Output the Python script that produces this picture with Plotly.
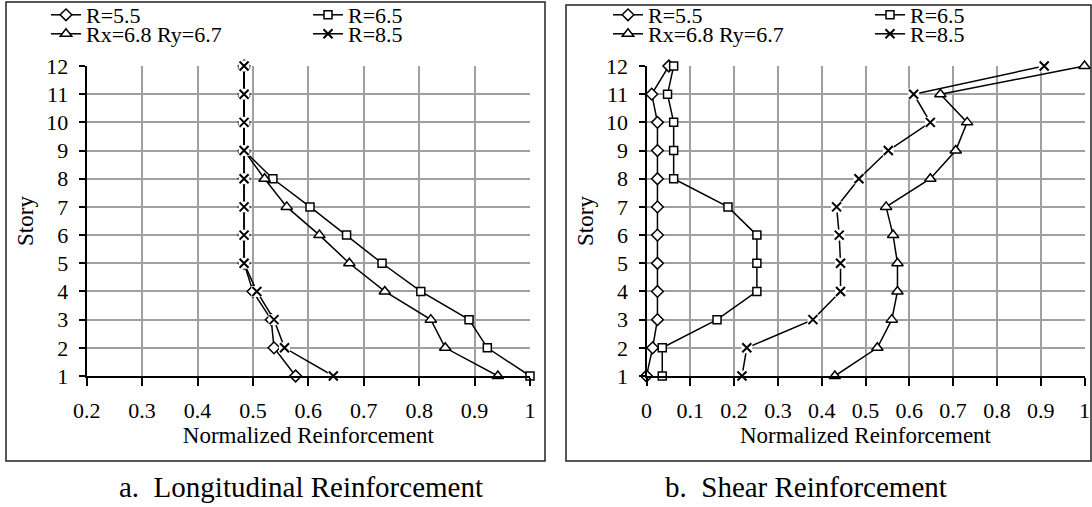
import plotly.graph_objects as go

W, H = 1092, 507

stories = [1, 2, 3, 4, 5, 6, 7, 8, 9, 10, 11, 12]
series_names = ["R=5.5", "R=6.5", "Rx=6.8 Ry=6.7", "R=8.5"]

# a. Longitudinal reinforcement (normalized)
long_r55 = [0.577, 0.538, 0.533, 0.500, 0.484, 0.484, 0.484, 0.484, 0.484, 0.484, 0.484, 0.484]
long_r65 = [1.000, 0.923, 0.890, 0.803, 0.733, 0.669, 0.603, 0.536, 0.484, 0.484, 0.484, 0.484]
long_r68 = [0.942, 0.847, 0.821, 0.738, 0.674, 0.620, 0.561, 0.521, 0.484, 0.484, 0.484, 0.484]
long_r85 = [0.645, 0.557, 0.538, 0.507, 0.484, 0.484, 0.484, 0.484, 0.484, 0.484, 0.484, 0.484]

# b. Shear reinforcement (normalized)
shear_r55 = [0.000, 0.014, 0.025, 0.025, 0.025, 0.025, 0.025, 0.025, 0.025, 0.025, 0.012, 0.051]
shear_r65 = [0.036, 0.036, 0.161, 0.252, 0.252, 0.252, 0.186, 0.062, 0.062, 0.062, 0.048, 0.062]
shear_r68 = [0.430, 0.527, 0.560, 0.573, 0.573, 0.563, 0.547, 0.648, 0.706, 0.732, 0.671, 1.000]
shear_r85 = [0.218, 0.229, 0.380, 0.443, 0.443, 0.440, 0.434, 0.485, 0.552, 0.648, 0.610, 0.908]

long_ticks = [0.2, 0.3, 0.4, 0.5, 0.6, 0.7, 0.8, 0.9, 1.0]
shear_ticks = [0, 0.1, 0.2, 0.3, 0.4, 0.5, 0.6, 0.7, 0.8, 0.9, 1.0]

FONT = "Liberation Serif, Times New Roman, serif"

markers = [
    dict(symbol="diamond", size=9, color="white", line=dict(color="black", width=1.5)),
    dict(symbol="square", size=8, color="white", line=dict(color="black", width=1.5)),
    dict(symbol="triangle-up", size=10, color="white", line=dict(color="black", width=1.5)),
    dict(symbol="x-thin", size=9, color="black", line=dict(color="black", width=2)),
]

fig = go.Figure()

def px_x(p):
    return p / W

def px_y(p):
    return 1 - p / H

# legend positions (pixel coords of legend left edge, row centre)
leg_pos_left = [(46, 15), (308, 15), (46, 34), (308, 34)]
leg_pos_right = [(608, 15), (870, 15), (608, 34), (870, 34)]

data_sets = [
    ("x", "y", [long_r55, long_r65, long_r68, long_r85], leg_pos_left, 0),
    ("x2", "y2", [shear_r55, shear_r65, shear_r68, shear_r85], leg_pos_right, 4),
]

legend_layouts = {}
for xa, ya, vals, legpos, off in data_sets:
    for i, (name, v) in enumerate(zip(series_names, vals)):
        lname = "legend" if off + i == 0 else f"legend{off + i + 1}"
        fig.add_trace(go.Scatter(
            x=v, y=stories, name=name, mode="lines+markers",
            line=dict(color="black", width=1.5),
            marker=markers[i], xaxis=xa, yaxis=ya,
            cliponaxis=False, legend=lname, showlegend=True,
        ))
        if i == 3:
            # white halo behind the x markers (breaks the lines like the original)
            fig.add_trace(go.Scatter(
                x=v, y=stories, mode="markers", showlegend=False, hoverinfo="skip",
                marker=dict(symbol="square", size=11, color="white", line=dict(width=0)),
                xaxis=xa, yaxis=ya, cliponaxis=False,
            ))
            fig.add_trace(go.Scatter(
                x=v, y=stories, mode="markers", showlegend=False, name=name,
                marker=markers[i], xaxis=xa, yaxis=ya, cliponaxis=False,
            ))
        lx, ly = legpos[i]
        legend_layouts[lname] = dict(
            x=px_x(lx), y=px_y(ly), xanchor="left", yanchor="middle",
            bgcolor="rgba(0,0,0,0)", borderwidth=0,
            font=dict(family=FONT, size=22, color="black"),
            itemwidth=30, tracegroupgap=0,
        )

ydom = [px_y(376), px_y(66)]
axis_common = dict(
    showgrid=True, gridcolor="#a0a0a0", gridwidth=1.5,
    showline=True, linecolor="black", linewidth=2,
    ticks="outside", tickcolor="black", tickwidth=1.5,
    tickfont=dict(family=FONT, size=22, color="black"),
    zeroline=False, mirror=False, automargin=False,
)

fig.update_layout(
    width=W, height=H,
    margin=dict(l=0, r=0, t=0, b=0, pad=0, autoexpand=False),
    paper_bgcolor="white", plot_bgcolor="white",
    font=dict(family=FONT, color="black"),
    xaxis=dict(domain=[px_x(86.7), px_x(530)], range=[0.2, 1.0], tickvals=long_ticks,
               ticktext=[f"{t:g}" for t in long_ticks], anchor="y", ticklen=8, ticklabelstandoff=6,
               title=dict(text="Normalized Reinforcement", font=dict(family=FONT, size=23), standoff=4),
               **axis_common),
    yaxis=dict(domain=ydom, range=[1, 12], tickvals=stories, anchor="x", ticklen=6, ticklabelstandoff=6,
               title=dict(text="Story", font=dict(family=FONT, size=23), standoff=6),
               **axis_common),
    xaxis2=dict(domain=[px_x(646.5), px_x(1084.5)], range=[0, 1.0], tickvals=shear_ticks,
                ticktext=[f"{t:g}" for t in shear_ticks], anchor="y2", ticklen=8, ticklabelstandoff=6,
                title=dict(text="Normalized Reinforcement", font=dict(family=FONT, size=23), standoff=4),
                **axis_common),
    yaxis2=dict(domain=ydom, range=[1, 12], tickvals=stories, anchor="x2", ticklen=6, ticklabelstandoff=6,
                title=dict(text="Story", font=dict(family=FONT, size=23), standoff=6),
                **axis_common),
    **legend_layouts,
)

# frames around each panel
fig.add_shape(type="rect", xref="paper", yref="paper",
              x0=px_x(6), x1=px_x(545), y0=px_y(461), y1=px_y(2),
              line=dict(color="#222", width=1.5), fillcolor="rgba(0,0,0,0)", layer="below")
fig.add_shape(type="rect", xref="paper", yref="paper",
              x0=px_x(566), x1=px_x(1091), y0=px_y(461), y1=px_y(5),
              line=dict(color="#222", width=1.5), fillcolor="rgba(0,0,0,0)", layer="below")

fig.add_annotation(text="a.&nbsp;&nbsp;Longitudinal Reinforcement", x=px_x(301), y=px_y(487),
                   xref="paper", yref="paper", xanchor="center", yanchor="middle", showarrow=False,
                   font=dict(family=FONT, size=29, color="black"))
fig.add_annotation(text="b.&nbsp;&nbsp;Shear Reinforcement", x=px_x(806), y=px_y(487),
                   xref="paper", yref="paper", xanchor="center", yanchor="middle", showarrow=False,
                   font=dict(family=FONT, size=29, color="black"))

fig.write_html(
    "out.html",
    config={"displayModeBar": False},
    post_script="document.body.style.margin='0';document.body.style.overflow='hidden';",
)
